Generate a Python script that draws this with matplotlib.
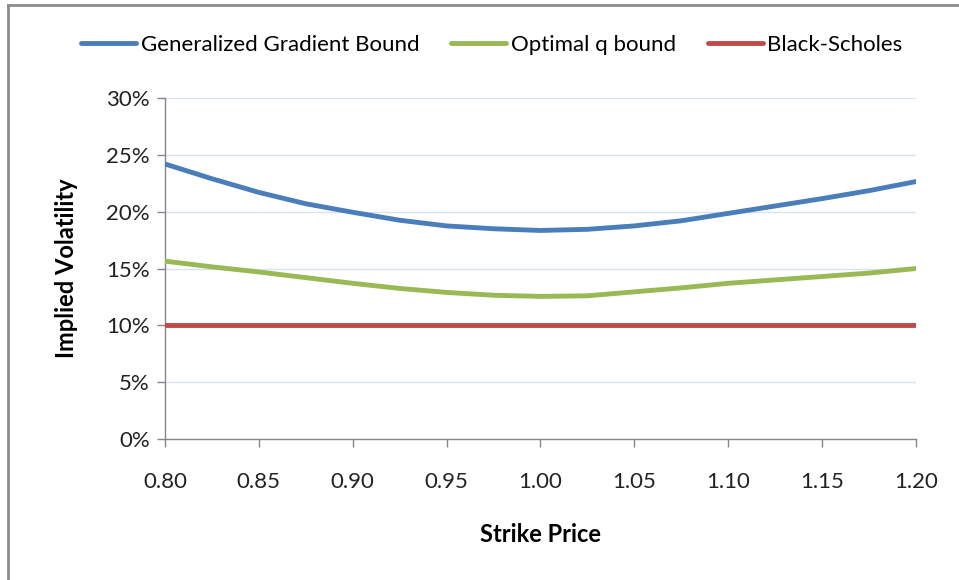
import matplotlib
matplotlib.use("Agg")
import matplotlib.pyplot as plt
from matplotlib.ticker import FuncFormatter
from matplotlib.lines import Line2D

plt.rcParams['font.family'] = ['Lato', 'DejaVu Sans']

strike = [0.800, 0.825, 0.850, 0.875, 0.900, 0.925, 0.950, 0.975, 1.000,
          1.025, 1.050, 1.075, 1.100, 1.125, 1.150, 1.175, 1.200]
gradient_bound = [24.2, 22.9, 21.7, 20.7, 19.95, 19.25, 18.75, 18.5, 18.35,
                  18.45, 18.75, 19.2, 19.85, 20.5, 21.15, 21.85, 22.65]
optimal_q = [15.65, 15.15, 14.7, 14.2, 13.7, 13.25, 12.9, 12.65, 12.55,
             12.6, 12.95, 13.3, 13.7, 14.0, 14.3, 14.6, 15.0]
black_scholes = [10.0] * len(strike)

x_ticks = [0.80, 0.85, 0.90, 0.95, 1.00, 1.05, 1.10, 1.15, 1.20]
y_ticks = [0, 5, 10, 15, 20, 25, 30]

c_blue = '#4A7EBB'
c_green = '#98B954'
c_red = '#BE4B48'
c_axis = '#868686'
c_grid = '#D9E3F0'

fig = plt.figure(figsize=(9.59, 5.80), dpi=100)
ax = fig.add_axes([0.172, 0.243, 0.783, 0.588])

# chart area border (top and left edges visible)
fig.add_artist(Line2D([0.008, 0.008], [0, 0.992], transform=fig.transFigure,
                      color='#8C8C8C', lw=2))
fig.add_artist(Line2D([0.008, 1.0], [0.992, 0.992], transform=fig.transFigure,
                      color='#8C8C8C', lw=2))

ax.plot(strike, gradient_bound, color=c_blue, lw=3.5, solid_capstyle='round',
        label='Generalized Gradient Bound', zorder=3)
ax.plot(strike, optimal_q, color=c_green, lw=3.5, solid_capstyle='round',
        label='Optimal q bound', zorder=3)
ax.plot(strike, black_scholes, color=c_red, lw=3.5, solid_capstyle='round',
        label='Black-Scholes', zorder=3)

ax.set_xlim(0.80, 1.20)
ax.set_ylim(0, 30)
ax.set_xticks(x_ticks)
ax.set_yticks(y_ticks)
ax.xaxis.set_major_formatter(FuncFormatter(lambda v, p: f'{v:.2f}'))
ax.yaxis.set_major_formatter(FuncFormatter(lambda v, p: f'{v:.0f}%'))

ax.grid(axis='y', color=c_grid, lw=1, zorder=0)
ax.set_axisbelow(True)
for s in ['top', 'right']:
    ax.spines[s].set_visible(False)
for s in ['left', 'bottom']:
    ax.spines[s].set_color(c_axis)
    ax.spines[s].set_linewidth(1)
ax.tick_params(axis='both', direction='out', length=6, width=1, color=c_axis,
               labelsize=16, labelcolor='#222222')
ax.tick_params(axis='x', pad=18)
ax.tick_params(axis='y', pad=5)

ax.set_xlabel('Strike Price', fontsize=17, fontweight='bold', labelpad=22)
ax.set_ylabel('Implied Volatility', fontsize=17, fontweight='bold', labelpad=20)

fig.legend(loc='center', bbox_to_anchor=(0.513, 0.922), ncol=3, frameon=False,
           fontsize=16, handlelength=2.45, handletextpad=0.22,
           columnspacing=1.45)

fig.savefig('out.png', dpi=100)
